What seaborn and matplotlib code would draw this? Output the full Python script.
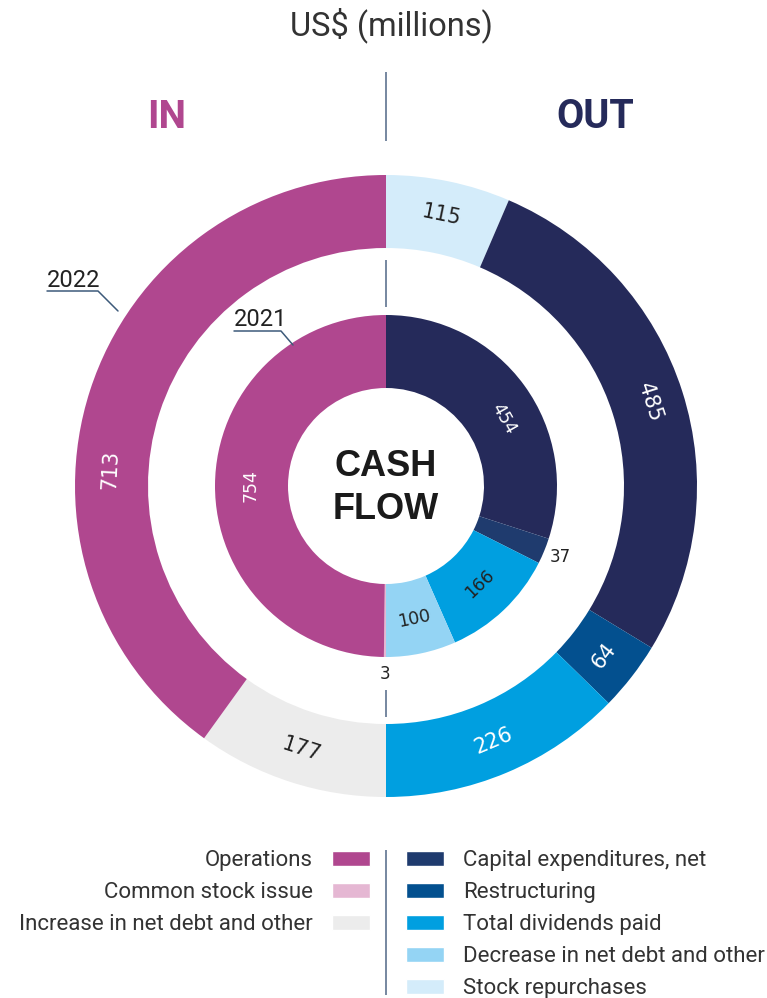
import numpy as np
import matplotlib
matplotlib.use("Agg")
import matplotlib.pyplot as plt
import seaborn as sns
from matplotlib.patches import Patch

# 2022 outer ring, clockwise from 12 o'clock (OUT half first, then IN half)
vals_2022 = [115, 485, 64, 226, 177, 713]
colors_2022 = ["#d4ecfa", "#252a5a", "#03508f", "#009fe0", "#ececec", "#b0478f"]
txtcol_2022 = ["#222222", "white", "white", "white", "#222222", "white"]

# 2021 inner ring
vals_2021 = [454, 37, 166, 100, 3, 754]
colors_2021 = ["#252a5a", "#1f3b6e", "#009fe0", "#94d4f4", "#e5b7d3", "#b0478f"]
txtcol_2021 = ["white", "#222222", "#222222", "#222222", "#222222", "white"]
outside_2021 = [False, True, False, False, True, False]

in_items = ["Operations", "Common stock issue", "Increase in net debt and other"]
in_colors = ["#b0478f", "#e5b7d3", "#ececec"]
out_items = ["Capital expenditures, net", "Restructuring", "Total dividends paid",
             "Decrease in net debt and other", "Stock repurchases"]
out_colors = ["#1f3b6e", "#03508f", "#009fe0", "#94d4f4", "#d4ecfa"]

sns.set_theme(style="white")
plt.rcParams['font.family'] = ['Roboto', 'DejaVu Sans']

W, H = 767, 998
CX, CY = 386, H - 486
R_OUT, R_IN, RING_W = 311, 171, 73
LINE = "#5f7390"


def py(y):
    # pixel row -> data y
    return H - y


fig = plt.figure(figsize=(W / 100, H / 100), dpi=100)
ax = fig.add_axes([0, 0, 1, 1])


def ring(vals, colors, radius):
    wedges, _ = ax.pie(vals, colors=colors, radius=radius, center=(CX, CY),
                       startangle=90, counterclock=False,
                       wedgeprops=dict(width=RING_W, linewidth=0))
    return wedges


def put(wedge, text, r, size, color, shift=0, along=True):
    phi = np.deg2rad((wedge.theta1 + wedge.theta2) / 2 + shift)
    x, y = CX + r * np.cos(phi), CY + r * np.sin(phi)
    rot = 0
    if along:
        rot = (np.rad2deg(phi) - 90 + 90) % 180 - 90
    ax.text(x, y, text, ha="center", va="center", rotation=rot,
            rotation_mode="anchor", fontsize=size, color=color,
            family="DejaVu Sans")


w22 = ring(vals_2022, colors_2022, R_OUT)
w21 = ring(vals_2021, colors_2021, R_IN)

shift_2022 = {713: 14.6}
shift_2021 = {454: -6.3}
for w, v, c in zip(w22, vals_2022, txtcol_2022):
    put(w, str(v), R_OUT - RING_W / 2 + 2, 15, c, shift_2022.get(v, 0))
for w, v, c, o in zip(w21, vals_2021, txtcol_2021, outside_2021):
    if o:
        put(w, str(v), 188, 12, c, along=False)
    else:
        put(w, str(v), R_IN - RING_W / 2 + 1, 12.5, c, shift_2021.get(v, 0))

ax.set_xlim(0, W)
ax.set_ylim(0, H)
ax.set_aspect("equal")
ax.axis("off")

# divider lines
for y0, y1 in [(72, 141), (260, 307), (690, 717), (850, 995)]:
    ax.plot([CX, CX], [py(y0), py(y1)], color=LINE, lw=1.2, solid_capstyle="butt")

# titles
ax.text(391, py(25), "US$ (millions)", ha="center", va="center", fontsize=23.5, color="#333333")
ax.text(167, py(117), "IN", ha="center", va="center", fontsize=28, fontweight="bold", color="#b0478f")
ax.text(595, py(117), "OUT", ha="center", va="center", fontsize=28.5, fontweight="bold", color="#252a5a")
ax.text(CX, py(488), "CASH\nFLOW", ha="center", va="center", fontsize=26, fontweight="bold",
        color="#1a1a1a", linespacing=1.3, family=["Liberation Sans", "DejaVu Sans"])

# year callouts
ax.text(47, py(287), "2022", ha="left", va="baseline", fontsize=17, color="#222222")
ax.plot([47, 98, 118], [py(291), py(291), py(311)], color="#3d5a7a", lw=1.1)
ax.text(234, py(326), "2021", ha="left", va="baseline", fontsize=17, color="#222222")
ax.plot([234, 281, 293], [py(331), py(331), py(345)], color="#3d5a7a", lw=1.1)

# legends
fs = 16
leg_kw = dict(frameon=False, fontsize=fs, handlelength=1.71, handleheight=0.68,
              handletextpad=0.86, labelspacing=0.5, borderpad=0, borderaxespad=0,
              labelcolor="#333333")
fig.legend([Patch(facecolor=c) for c in in_colors], in_items, loc="upper right",
           bbox_to_anchor=(370 / W, 1 - 850 / H), markerfirst=False, **leg_kw)
fig.legend([Patch(facecolor=c) for c in out_colors], out_items, loc="upper left",
           bbox_to_anchor=(406 / W, 1 - 850 / H), **leg_kw)

fig.savefig("out.png", dpi=100)
